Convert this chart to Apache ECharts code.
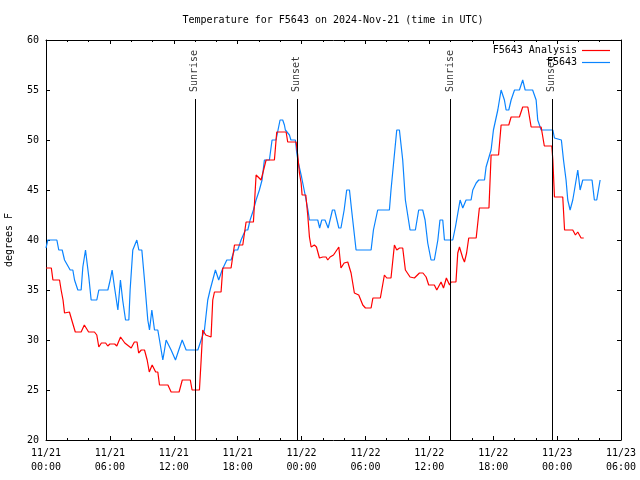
<!DOCTYPE html>
<html>
<head>
<meta charset="utf-8">
<script src="https://cdn.jsdelivr.net/npm/echarts@6/dist/echarts.min.js"></script>
<style>
html,body{margin:0;padding:0;background:#fff;}
#chart{width:640px;height:480px;}
</style>
</head>
<body>
<div id="chart"></div>
<script>
// Hours since 2024-11-21 00:00 UTC
const titleText = 'Temperature for F5643 on 2024-Nov-21 (time in UTC)';
const yName = 'degrees F';
const seriesNames = ['F5643 Analysis', 'F5643'];

const redHours = [0,0.5,0.65,1.27,1.42,1.6,1.74,2.2,2.5,2.75,3.3,3.6,4.0,4.55,4.77,4.96,5.2,5.6,5.8,6.0,6.45,6.65,7.0,7.4,8.0,8.3,8.55,8.7,8.95,9.25,9.5,9.7,9.97,10.3,10.5,10.66,11.45,11.75,12.5,12.8,13.55,13.72,14.41,14.57,14.72,15.0,15.5,15.66,15.82,16.44,16.6,17.38,17.7,18.48,18.79,19.48,19.73,20.2,20.67,21.45,21.67,22.55,22.7,23.49,23.64,23.8,23.96,24.05,24.4,24.58,24.74,24.9,25.2,25.4,25.68,26.0,26.3,26.46,26.68,27.0,27.5,27.7,28.0,28.34,28.65,28.96,29.37,29.75,30.0,30.53,30.7,31.4,31.78,32.0,32.4,32.72,32.94,33.2,33.5,33.75,34.19,34.6,34.75,35.07,35.4,35.7,35.94,36.47,36.7,37.1,37.33,37.6,37.9,38.05,38.5,38.67,38.83,39.14,39.3,39.5,39.7,40.4,40.7,41.6,41.8,42.5,42.74,43.46,43.68,44.46,44.77,45.25,45.56,46.5,46.8,47.5,47.6,47.75,48.53,48.7,49.47,49.72,49.94,50.25,50.5];
const redTemps = [37.2,37.2,36,36,35,34,32.7,32.8,31.7,30.8,30.8,31.5,30.8,30.8,30.5,29.3,29.7,29.7,29.4,29.6,29.6,29.4,30.3,29.7,29.2,29.8,29.8,28.7,29,29,28,26.8,27.5,26.8,26.8,25.5,25.5,24.8,24.8,26,26,25,25,28,31,30.5,30.3,34,34.8,34.8,37.2,37.2,39.5,39.5,41.8,41.8,46.5,46,48,48,50.8,50.8,49.8,49.8,48.5,46.7,45.7,44.5,44.5,42.5,40.3,39.3,39.5,39.3,38.2,38.3,38.3,38,38.3,38.5,39.3,37.2,37.7,37.8,36.7,34.7,34.5,33.5,33.2,33.2,34.2,34.2,36.5,36.2,36.2,39.5,39,39.2,39.2,37,36.3,36.2,36.2,36.7,36.7,36.3,35.5,35.5,35,35.8,35.2,36.2,35.5,35.8,35.8,38.7,39.3,38.2,37.8,38.7,40.2,40.2,43.2,43.2,48.5,48.5,51.5,51.5,52.3,52.3,53.3,53.3,51.3,51.3,49.4,49.4,48,44.3,44.3,41,41,40.5,40.8,40.2,40.2];

const blueHours = [0,0.17,1.02,1.2,1.52,1.74,1.9,2.27,2.52,2.68,2.99,3.3,3.46,3.71,4.02,4.24,4.77,4.96,5.81,6.03,6.21,6.43,6.75,6.99,7.2,7.47,7.78,7.9,8.15,8.53,8.72,9.0,9.25,9.56,9.72,9.94,10.19,10.5,10.66,10.97,11.13,11.28,11.44,11.75,11.91,12.16,12.47,12.79,12.91,13.16,14.26,14.57,14.72,14.88,15.19,15.41,15.66,15.91,16.22,16.54,16.98,17.38,17.7,18.0,18.32,18.48,18.73,18.95,19.17,19.48,19.73,20.04,20.29,20.51,20.98,21.23,21.6,21.98,22.23,22.39,22.48,22.86,23.0,23.42,23.55,23.7,24.0,24.3,24.6,24.74,25.52,25.7,25.9,26.2,26.5,26.9,27.1,27.5,27.7,28.0,28.24,28.5,28.7,29.12,30.53,30.75,31.15,32.25,32.4,32.94,33.19,33.5,33.75,34.19,34.69,35.0,35.38,35.6,35.85,36.16,36.47,36.8,37.0,37.26,37.42,38.2,38.45,38.89,39.14,39.45,39.92,40.08,40.4,40.64,41.18,41.33,41.8,42.02,42.43,42.74,43.05,43.21,43.46,43.68,44.0,44.46,44.77,45.0,45.7,46.03,46.18,46.5,47.6,47.75,47.9,48.4,48.6,48.84,49.0,49.22,49.47,49.63,49.94,50.16,50.41,51.28,51.5,51.72,52.04];
const blueTemps = [39.2,40,40,39,39,38,38,37,37,36,35,35,37.3,39,36.3,34,34,35,35,36,37,35.3,33,36,34,32,32,35,39,40,39,39,36,32,31,33,31,31,30,28,29,30,30,29,29,28,29,30,30,29,29,30,30,31,34,35,36,37,36,37,38,38,39,39,40,40,41,41,42,43,44,45,46,48,48,50,50,52,52,51.5,51,50.5,50,50,48.7,47.7,46.3,44.7,43,42,42,41.2,42,42,41.2,43,43,41.2,41.2,43,45,45,43,39,39,41,43,43,45,51,51,48,44,41,41,43,43,42,39.7,38,38,40,42,42,40,40,41.3,44,43.2,44,44,45,45.7,46,46,47.3,49,51,53,55,54,53,53,54,55,55,56,55,55,54,52,51,51,50.2,50,50,48,46,44,43,44,45,47,45,46,46,44,44,46];

const eventHours = [13.97, 23.55, 37.95, 47.5];
const eventNames = ['Sunrise', 'Sunset', 'Sunrise', 'Sunset'];
const eventLineTop = 54.1;

const xTickDays = ['11/21','11/22','11/23'];

function zip(a, b) { return a.map((v, i) => [v, b[i]]); }
function pad(n) { return (n < 10 ? '0' : '') + n; }

const FONT = 'DejaVu Sans Mono';
const RED = '#ff0000';
const BLUE = '#0a84ff';
const chart = echarts.init(document.getElementById('chart'), null, {renderer: 'canvas'});

const xBase = {
  type: 'value', min: 0, max: 54, interval: 6,
  axisLine: {show: true, onZero: false, lineStyle: {color: '#000', width: 1}},
  axisTick: {show: true, inside: true, length: 4, lineStyle: {color: '#000'}},
  minorTick: {show: true, splitNumber: 3, length: 2, lineStyle: {color: '#000'}},
  splitLine: {show: false}
};
const yBase = {
  type: 'value', min: 20, max: 60, interval: 5,
  axisLine: {show: true, onZero: false, lineStyle: {color: '#000', width: 1}},
  axisTick: {show: true, inside: true, length: 4, lineStyle: {color: '#000'}},
  splitLine: {show: false}
};

const eventData = eventHours.map((h, i) => ({value: [h, eventLineTop], name: eventNames[i]}));
const eventLines = eventHours.map(h => [{coord: [h, eventLineTop]}, {coord: [h, 20]}]);
const legendIcon = 'path://M0,0H28V1.2H0Z';

chart.setOption({
  animation: false,
  backgroundColor: '#fff',
  textStyle: {fontFamily: FONT},
  title: {
    text: titleText, left: 333, top: 15, textAlign: 'center', padding: 0,
    textStyle: {fontFamily: FONT, fontSize: 10, fontWeight: 'normal', color: '#000'}
  },
  legend: {
    data: [{name: seriesNames[0], icon: legendIcon}, {name: seriesNames[1], icon: legendIcon}],
    orient: 'vertical', align: 'right',
    right: 25, top: 40, itemWidth: 28, itemHeight: 11, itemGap: 1,
    textStyle: {fontFamily: FONT, fontSize: 10, color: '#000', lineHeight: 11},
    selectedMode: false
  },
  grid: {left: 46, right: 19, top: 40, bottom: 40, containLabel: false, outerBoundsMode: 'none'},
  xAxis: [
    Object.assign({}, xBase, {
      position: 'bottom',
      axisLabel: {
        show: true, margin: 6, color: '#000', fontFamily: FONT, fontSize: 10, lineHeight: 14,
        showMaxLabel: true, showMinLabel: true,
        formatter: v => xTickDays[Math.floor(v / 24)] + '\n' + pad(v % 24) + ':00'
      }
    }),
    Object.assign({}, xBase, {position: 'top', axisLabel: {show: false}})
  ],
  yAxis: [
    Object.assign({}, yBase, {
      position: 'left',
      name: yName, nameLocation: 'middle', nameRotate: 90, nameGap: 32,
      nameTextStyle: {fontFamily: FONT, fontSize: 10, color: '#000'},
      axisLabel: {show: true, margin: 7, color: '#000', fontFamily: FONT, fontSize: 10}
    }),
    Object.assign({}, yBase, {position: 'right', axisLabel: {show: false}})
  ],
  series: [
    {
      name: seriesNames[0], type: 'line', data: zip(redHours, redTemps),
      symbol: 'none', lineStyle: {color: RED, width: 1.2}, itemStyle: {color: RED},
      z: 3
    },
    {
      name: seriesNames[1], type: 'line', data: zip(blueHours, blueTemps),
      symbol: 'none', lineStyle: {color: BLUE, width: 1.2}, itemStyle: {color: BLUE},
      z: 2
    },
    {
      name: 'events', type: 'scatter', data: eventData, symbolSize: 0,
      itemStyle: {color: 'rgba(0,0,0,0)'},
      label: {
        show: true, formatter: p => p.name, position: 'top', distance: 7,
        rotate: 90, align: 'left', verticalAlign: 'middle',
        color: '#000', fontFamily: FONT, fontSize: 10
      },
      markLine: {
        silent: true, symbol: ['none', 'none'], label: {show: false},
        lineStyle: {color: '#000', width: 1, type: 'solid'},
        data: eventLines
      },
      z: 4
    }
  ]
});
</script>
</body>
</html>
